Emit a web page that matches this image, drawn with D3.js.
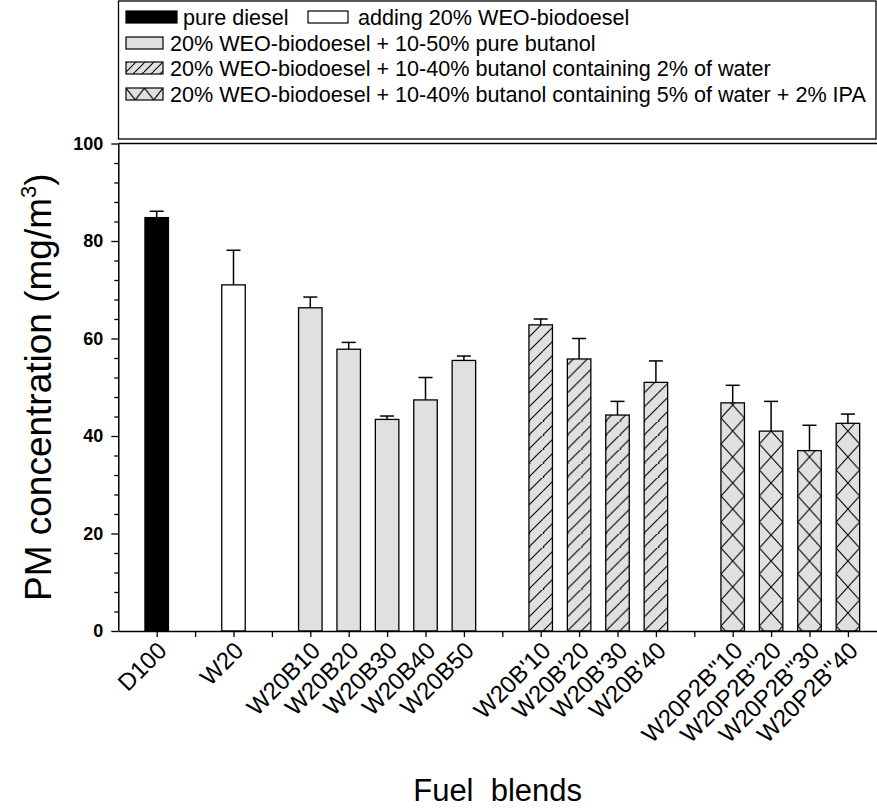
<!DOCTYPE html>
<html><head><meta charset="utf-8">
<script src="https://cdn.jsdelivr.net/npm/d3@7"></script>
<style>
body{margin:0;background:#fff}
svg{display:block}
text{font-family:"Liberation Sans",Arial,sans-serif;fill:#000}
</style>
</head><body>
<svg id="c" width="877" height="809"></svg>
<script>
const categories = ["D100","W20","W20B10","W20B20","W20B30","W20B40","W20B50","W20B'10","W20B'20","W20B'30","W20B'40","W20P2B''10","W20P2B''20","W20P2B''30","W20P2B''40"];
const groupOf = [0,1,2,2,2,2,2,3,3,3,3,4,4,4,4];
const pmValues = [84.8,71.0,66.3,57.8,43.4,47.4,55.5,62.8,55.8,44.3,51.0,46.8,41.0,37.0,42.6];
const pmErrors = [1.3,7.1,2.2,1.4,0.7,4.6,0.9,1.2,4.2,2.8,4.4,3.6,6.1,5.2,1.9];
const yTicks = [0,20,40,60,80,100];
const legendLabels = ["pure diesel","adding 20% WEO-biodoesel","20% WEO-biodoesel + 10-50% pure butanol","20% WEO-biodoesel + 10-40% butanol containing 2% of water","20% WEO-biodoesel + 10-40% butanol containing 5% of water + 2% IPA"];

const svg = d3.select("#c");
const defs = svg.append("defs");
const W = 877;
const x = d3.scaleLinear().domain([-1, 19]).range([118.3, 886.3]);
const y = d3.scaleLinear().domain([0, 100]).range([631, 143.5]);
const barW = 23.5;
const grey = "#e0e0e0";

const data = categories.map((c, i) => ({name: c, g: groupOf[i], v: pmValues[i], e: pmErrors[i], slot: i + groupOf[i]}));

// patterns
function hatchPattern(id, px, py, p) {
  const pt = defs.append("pattern").attr("id", id).attr("patternUnits", "userSpaceOnUse")
    .attr("x", px).attr("y", py).attr("width", p).attr("height", p);
  pt.append("rect").attr("width", p).attr("height", p).attr("fill", grey);
  pt.append("path").attr("d", `M0,${p} L${p},0 M${-p},${p} L0,0 M${p},${p} L${2*p},0`)
    .attr("stroke", "#000").attr("stroke-width", 1.1);
  return `url(#${id})`;
}
function crossPattern(id, px, py, w, h) {
  const pt = defs.append("pattern").attr("id", id).attr("patternUnits", "userSpaceOnUse")
    .attr("x", px).attr("y", py).attr("width", w).attr("height", h);
  pt.append("rect").attr("width", w).attr("height", h).attr("fill", grey);
  pt.append("path").attr("d", `M0,0 L${w},${h} M${w},0 L0,${h}`)
    .attr("stroke", "#000").attr("stroke-width", 1.1);
  return `url(#${id})`;
}
function fillFor(d, i) {
  const left = x(d.slot) - barW / 2;
  if (d.g === 0) return "#000";
  if (d.g === 1) return "#fff";
  if (d.g === 2) return grey;
  if (d.g === 3) return hatchPattern("h" + i, left, y(0), 14);
  return crossPattern("x" + i, left, y(0) - 31, barW, 26);
}

// frame top line
svg.append("line").attr("x1", x(-1)).attr("x2", W).attr("y1", y(100)).attr("y2", y(100))
  .attr("stroke", "#000").attr("stroke-width", 1.5);

// bars
svg.append("g").selectAll("rect").data(data).join("rect")
  .attr("x", d => x(d.slot) - barW / 2)
  .attr("y", d => y(d.v))
  .attr("width", barW)
  .attr("height", d => y(0) - y(d.v))
  .attr("fill", (d, i) => fillFor(d, i))
  .attr("stroke", "#000").attr("stroke-width", 1.3);

// error bars
const eb = svg.append("g").attr("stroke", "#000").attr("stroke-width", 1.5);
eb.selectAll("line.s").data(data).join("line").attr("class", "s")
  .attr("x1", d => x(d.slot)).attr("x2", d => x(d.slot))
  .attr("y1", d => y(d.v)).attr("y2", d => y(d.v + d.e));
eb.selectAll("line.c").data(data).join("line").attr("class", "c")
  .attr("x1", d => x(d.slot) - 7).attr("x2", d => x(d.slot) + 7)
  .attr("y1", d => y(d.v + d.e)).attr("y2", d => y(d.v + d.e));

// y axis
const minor = d3.range(0, 101, 4).filter(v => v % 20 !== 0);
svg.append("g").attr("transform", `translate(${x(-1)},0)`)
  .call(d3.axisLeft(y).tickValues(minor).tickSize(4).tickFormat("").tickSizeOuter(0))
  .call(g => g.select(".domain").remove())
  .selectAll("line").attr("stroke-width", 1.3);
const ya = svg.append("g").attr("transform", `translate(${x(-1)},0)`)
  .call(d3.axisLeft(y).tickValues(yTicks).tickSize(7).tickPadding(8).tickSizeOuter(0));
ya.selectAll("line").attr("stroke-width", 1.3);
ya.select(".domain").attr("stroke-width", 1.5);
ya.selectAll("text").attr("font-size", 18).attr("font-weight", "bold")
  .style("font-family", '"Liberation Sans",Arial,sans-serif');

// x axis
const labelBySlot = {};
data.forEach(d => labelBySlot[d.slot] = d.name);
const xa = svg.append("g").attr("transform", `translate(0,${y(0)})`)
  .call(d3.axisBottom(x).tickValues(d3.range(0, 19)).tickSize(6).tickSizeOuter(0)
    .tickFormat(s => labelBySlot[s] || ""));
xa.selectAll("line").attr("stroke-width", 1.3);
xa.select(".domain").attr("stroke-width", 1.5);
xa.selectAll("text").attr("font-size", 24).attr("text-anchor", "end")
  .attr("dy", 0).attr("y", 0)
  .attr("transform", "translate(11,21) rotate(-45)")
  .style("font-family", '"Liberation Sans",Arial,sans-serif');

// axis titles
const yt = svg.append("text").attr("transform", `translate(51,${(y(0) + y(100)) / 2}) rotate(-90)`)
  .attr("text-anchor", "middle").attr("font-size", 37);
yt.append("tspan").text("PM concentration (mg/m");
yt.append("tspan").attr("font-size", 22).attr("dy", -15).text("3");
yt.append("tspan").attr("dy", 15).text(")");
svg.append("text").attr("x", (x(-1) + W) / 2).attr("y", 801).attr("text-anchor", "middle")
  .attr("font-size", 31).attr("xml:space", "preserve").style("white-space", "pre").text("Fuel  blends");

// legend
const lg = svg.append("g");
lg.append("rect").attr("x", 118.5).attr("y", 1).attr("width", 757.5).attr("height", 138)
  .attr("fill", "none").attr("stroke", "#000").attr("stroke-width", 1.3);
const sw = [
  {x: 126, y: 17, w: 51, fill: "#000", tx: 183},
  {x: 308, y: 17, w: 40, fill: "#fff", tx: 358},
  {x: 126, y: 43, w: 37, fill: grey, tx: 170},
  {x: 126, y: 68, w: 37, fill: null, tx: 170},
  {x: 126, y: 94, w: 37, fill: null, tx: 170}
];
sw[3].fill = hatchPattern("lh", 126, 0, 9);
sw[4].fill = crossPattern("lx", 126, 94 - 6, 18.5, 24);
const swH = 12;
legendLabels.forEach((t, i) => {
  const s = sw[i];
  lg.append("rect").attr("x", s.x).attr("y", s.y - swH / 2).attr("width", s.w).attr("height", swH)
    .attr("fill", s.fill).attr("stroke", "#000").attr("stroke-width", 1.2);
  lg.append("text").attr("x", s.tx).attr("y", s.y).attr("dy", "0.35em")
    .attr("font-size", 21.6).text(t);
});
</script>
</body></html>
